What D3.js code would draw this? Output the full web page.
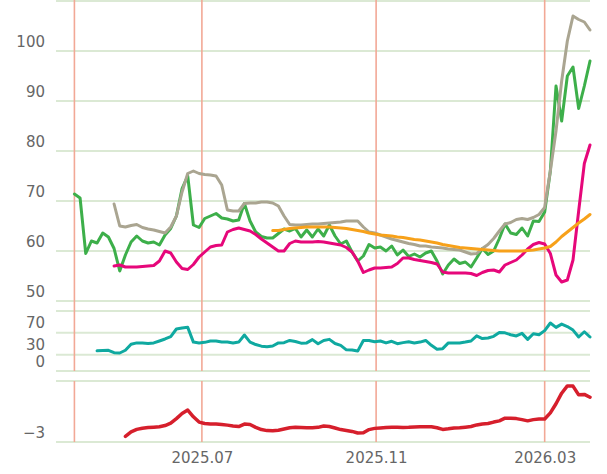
<!DOCTYPE html>
<html>
<head>
<meta charset="utf-8">
<script src="https://cdn.jsdelivr.net/npm/d3@7"></script>
<style>
  body { margin: 0; background: #fff; }
  svg { display: block; }
  .lbl { font-family: "DejaVu Sans", sans-serif; font-size: 15px; fill: #666; }
</style>
</head>
<body>
<svg id="chart"></svg>
<script>
// sampled every 4 days from 2025-04-02
const START_DATE = "2025-04-02";
const STEP_DAYS = 4;

const green = [
  71.4, 70.6, 59.5, 62, 61.6, 63.6, 62.8, 60.5, 56.0, 59.2,
  61.8, 63.0, 62.0, 61.6, 61.8, 61.2, 63.2, 64.5, 67.0, 72.5,
  75.0, 65.2, 64.7, 66.5, 67.0, 67.5, 66.6, 66.4, 66.0, 66.2,
  69.5, 66.0, 63.8, 62.9, 62.6, 62.6, 63.5, 64.4, 64.0, 64.5,
  62.8, 64.2, 62.8, 64.4, 63.0, 65.2, 63.0, 61.4, 62.0, 59.8,
  58.0, 59.0, 61.3, 60.6, 60.8, 60.0, 61.0, 59.2, 60.2, 58.9,
  59.4, 58.8, 59.6, 60.0, 58.0, 55.4, 57.2, 58.4, 57.5, 57.8,
  56.8, 58.6, 60.5, 59.3, 60.0, 62.5, 65.4, 63.6, 63.3, 64.6,
  63.0, 66.0, 65.9, 67.8, 76, 93, 86, 95, 96.8, 88.5,
  93, 98
];

const gray = [
  null, null, null, null, null, null, null,
  69.4, 65, 64.8, 65.1, 65.3, 64.7, 64.4, 64.2, 63.9, 63.6,
  64.8, 67, 71.8, 75.5, 76, 75.5, 75.3, 75.2, 75.0, 73.2,
  68.2, 68, 68, 69.5, 69.6, 69.6, 69.8, 69.8, 69.6, 69.0,
  67, 65.3, 65.2, 65.2, 65.3, 65.4, 65.4, 65.5, 65.6, 65.7,
  65.8, 66, 66, 66, 64.8, 63.8, 63.6, 63.2, 62.8, 62.4,
  62.1, 61.8, 61.5, 61.3, 61, 61, 60.8, 60.7, 60.6, 60.4,
  60.3, 60.2, 59.8, 59.4, 59.5, 60.5, 61.3, 62.5, 64.0, 65.4,
  65.7, 66.3, 66.5, 66.3, 66.7, 67.3, 68.7, 76, 84, 94,
  102, 107, 106.3, 105.8, 104.2
];

const pink = [
  null, null, null, null, null, null, null,
  57.0, 57.2, 56.8, 56.8, 56.8, 56.9, 57, 57.1, 58, 60,
  59.6, 57.8, 56.5, 56.3, 57.3, 58.8, 59.8, 60.8, 61.1, 61.2,
  63.8, 64.3, 64.6, 64.3, 64, 63.3, 62.4, 61.6, 60.8, 60,
  60, 61.5, 62, 61.8, 61.8, 61.8, 61.9, 61.8, 61.6, 61.4,
  61.2, 60.7, 59.8, 58, 55.7, 56.2, 56.6, 56.6, 56.7, 56.8,
  57.5, 58.6, 58.6, 58.3, 58.1, 57.9, 57.7, 57.4, 55.8, 55.6,
  55.6, 55.6, 55.6, 55.5, 55.1, 55.7, 56.1, 56.2, 55.8, 57.2,
  57.7, 58.2, 59.2, 60.4, 61.3, 61.7, 61.4, 59.5, 55.2, 53.8,
  54.2, 58.2, 68, 77.5, 81.2
];

const orange = [
  null, null, null, null, null, null, null, null, null, null,
  null, null, null, null, null, null, null, null, null, null,
  null, null, null, null, null, null, null, null, null, null,
  null, null, null, null, null,
  64.1, 64.1, 64.3, 64.5, 64.6, 64.7, 64.8, 64.8, 64.8, 64.8,
  64.8, 64.7, 64.6, 64.5, 64.3, 64.1, 63.9, 63.6, 63.4, 63.2,
  63.1, 63.0, 62.8, 62.7, 62.5, 62.3, 62.2, 62.0, 61.8, 61.6,
  61.3, 61.1, 60.9, 60.7, 60.6, 60.5, 60.4, 60.3, 60.2, 60.1,
  60.0, 60.0, 60.0, 60.0, 60.0, 60.1, 60.2, 60.4, 60.6, 60.9,
  61.8, 62.9, 63.8, 64.7, 65.6, 66.4, 67.3
];

const teal = [
  null, null, null, null,
  37, 37.5, 38, 33.5, 33, 38,
  49, 51.5, 51.5, 50.5, 51.5, 55, 58.7, 63, 77, 79,
  80, 53, 51.5, 52.5, 55, 55, 53, 53, 51.3, 53,
  66, 53, 48.5, 45.5, 44.5, 45.8, 51.5, 52, 56, 54,
  51, 51.5, 57.5, 50, 56, 58, 50.5, 47, 38.8, 38.5,
  36.5, 56, 56, 53.5, 55, 51.5, 54.5, 50, 52, 53.5,
  51.5, 53, 56, 47, 40, 41, 51.5, 51.5, 51.3, 53,
  55, 64.5, 59.5, 60.5, 63.5, 70.5, 70, 66.5, 64.3, 69,
  58, 68.3, 66.5, 74, 88, 80, 86, 81.5, 75, 62.3,
  72, 62.3
];

const red = [
  null, null, null, null, null, null, null, null, null,
  -2.72,
  -2.5, -2.38, -2.32, -2.29, -2.27, -2.25, -2.19, -2.07, -1.85, -1.6,
  -1.43, -1.76, -2.02, -2.09, -2.11, -2.12, -2.14, -2.17, -2.21, -2.24,
  -2.12, -2.14, -2.28, -2.39, -2.44, -2.45, -2.42, -2.36, -2.30, -2.28,
  -2.29, -2.30, -2.30, -2.28, -2.21, -2.24, -2.31, -2.39, -2.43, -2.48,
  -2.56, -2.55, -2.39, -2.33, -2.31, -2.29, -2.28, -2.28, -2.29, -2.28,
  -2.26, -2.25, -2.25, -2.25, -2.3, -2.38, -2.35, -2.31, -2.3, -2.27,
  -2.24, -2.16, -2.11, -2.09, -2.02, -1.96, -1.83, -1.83, -1.85, -1.9,
  -1.96, -1.9, -1.87, -1.87, -1.57, -1.12, -0.6, -0.24, -0.25, -0.68,
  -0.66, -0.8
];

const markerDates = ["2025-04-02", "2025-07-01", "2025-11-01", "2026-02-28"];
const tickDates = ["2025-07-01", "2025-11-01", "2026-02-28"];
const tickLabels = ["2025.07", "2025.11", "2026.03"];

const mainTicks = [50, 60, 70, 80, 90, 100];
const mainGrid = [50, 60, 70, 80, 90, 100, 110];
const oscTicks = [0, 30, 70];
const oscGrid = [0, 30, 70, 110];
const zTicks = [-3];
const zGrid = [-3, 0];

const W = 607, H = 474;
const left = 56, right = 590;

const parse = d3.utcParse("%Y-%m-%d");
const dates = green.map((_, i) => d3.utcDay.offset(parse(START_DATE), i * STEP_DAYS));

const x = d3.scaleUtc()
  .domain([parse("2025-03-20"), parse("2026-04-01")])
  .range([left, right]);

const yMain = d3.scaleLinear().domain([50, 110]).range([301, 1]);
const yOsc = d3.scaleLinear().domain([0, 110]).range([371, 311]);
const yZ = d3.scaleLinear().domain([-3, 0]).range([442, 381]);

const svg = d3.select("#chart").attr("width", W).attr("height", H);

function drawPanel(y, grid, ticks, fmt) {
  svg.append("g").selectAll("line").data(grid).join("line")
    .attr("x1", left).attr("x2", right)
    .attr("y1", d => y(d)).attr("y2", d => y(d))
    .attr("stroke", "#dbe9d4").attr("stroke-width", 2);
  svg.append("g").selectAll("text").data(ticks).join("text")
    .attr("class", "lbl")
    .attr("x", 45).attr("y", d => y(d) - 4.5)
    .attr("text-anchor", "end")
    .text(fmt);
}

drawPanel(yMain, mainGrid, mainTicks, d => d);
drawPanel(yOsc, oscGrid, oscTicks, d => d);
drawPanel(yZ, zGrid, zTicks, d => "\u2212" + Math.abs(d));

// event markers
const markers = svg.append("g").attr("stroke", "#f2a896").attr("stroke-width", 1.6);
markers.selectAll("line.top").data(markerDates).join("line")
  .attr("class", "top")
  .attr("x1", d => x(parse(d))).attr("x2", d => x(parse(d)))
  .attr("y1", 0).attr("y2", yOsc(0));
markers.selectAll("line.bot").data(markerDates).join("line")
  .attr("class", "bot")
  .attr("x1", d => x(parse(d))).attr("x2", d => x(parse(d)))
  .attr("y1", yZ(0)).attr("y2", yZ(-3));

function drawSeries(values, y, color, width) {
  const line = d3.line()
    .defined(d => d[1] != null)
    .x(d => x(d[0]))
    .y(d => y(d[1]));
  svg.append("path")
    .datum(values.map((v, i) => [dates[i], v]))
    .attr("d", line)
    .attr("fill", "none")
    .attr("stroke", color)
    .attr("stroke-width", width)
    .attr("stroke-linejoin", "round")
    .attr("stroke-linecap", "round");
}

drawSeries(green, yMain, "#3daf4a", 3);
drawSeries(gray, yMain, "#aaa591", 3);
drawSeries(pink, yMain, "#e6077a", 3);
drawSeries(orange, yMain, "#f7a11a", 3);
drawSeries(teal, yOsc, "#0fa9a0", 3);
drawSeries(red, yZ, "#d61f2c", 3.5);

// x labels
const xAxis = d3.axisBottom(x)
  .tickValues(tickDates.map(parse))
  .tickFormat((d, i) => tickLabels[i])
  .tickSize(0)
  .tickPadding(0);
const gx = svg.append("g").attr("transform", "translate(0,452)").call(xAxis);
gx.select(".domain").remove();
gx.selectAll("text")
  .attr("class", "lbl")
  .attr("dy", "0.71em")
  .attr("fill", null);
</script>
</body>
</html>
